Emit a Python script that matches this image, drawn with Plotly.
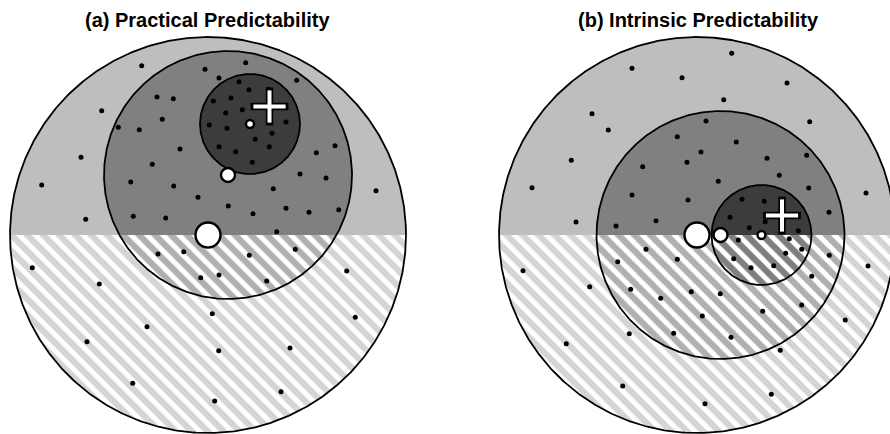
import numpy as np
import plotly.graph_objects as go

# ---------------- data ----------------
TITLES = ["(a) Practical Predictability", "(b) Intrinsic Predictability"]
TITLE_X = [207, 698]
TITLE_Y = [20, 20]

SPLIT_Y = 235  # horizontal divide between solid (upper) and hatched (lower)

# nested circles: outer, middle, inner
A_CX = [208, 228, 250]
A_CY = [235, 175, 124]
A_R = [198, 124, 50]

B_CX = [697, 720.5, 761.5]
B_CY = [235, 235, 235]
B_R = [198, 124, 50]

SOLID_COLORS = ["#bebebe", "#808080", "#3c3c3c"]
STRIPE_COLORS = ["#a9a9a9", "#606060", "#000000"]
CENTER_MARK_SIZES = [25, 14, 8]

A_PLUS = (269.5, 106.5)
B_PLUS = (782, 215.5)

A_DOTS_X = [141.7, 101.7, 81, 41.7, 85.7, 376,
            245.7, 205, 219, 296.7, 157, 173.3, 162.3, 118.3, 139.3, 180, 152.3, 130.7, 173.7,
            198, 228.3, 133.3, 165.7, 253, 286, 309, 338.7, 276.7, 273.3, 300, 326, 316.3, 335,
            239, 268.7, 249, 231, 213.3, 242.3, 225.7, 209.3, 227, 286, 272, 255.3, 219, 235.7,
            269.3, 252.3,
            158, 183.7, 249.3, 295.3, 200.7, 219, 266.7,
            32.3, 99.3, 212.3, 346.7, 355.3, 147, 87, 218.7, 290, 132.7, 281, 214.7]
A_DOTS_Y = [65.7, 110.7, 157.3, 185, 219.3, 190.7,
            62.7, 69.3, 78, 80.3, 97, 98.7, 119.3, 127.3, 129.7, 149, 164.3, 182, 186,
            197.3, 206, 216.3, 218, 213.7, 208.3, 212.3, 209.7, 231.7, 188.7, 174, 178, 152.7, 145.7,
            81.7, 89.3, 89.7, 98, 101, 109.7, 113, 125, 128.3, 122, 133.3, 139.3, 146.7, 151.7,
            146.7, 162.3,
            254, 251.7, 255.3, 249.3, 277.7, 275, 281,
            267.7, 284, 313.7, 271, 317.3, 326.7, 341.7, 350.7, 348, 383.3, 391.7, 401]

B_DOTS_X = [731.7, 632, 682, 787, 723.7, 592, 608.3, 809.7, 571.3, 532, 576, 866,
            706, 677.3, 736.3, 701, 767, 806.7, 687, 642.7, 779.3, 718.3, 808.7, 632, 688, 656, 616, 829,
            742, 764.3, 730, 765.3, 749.3, 798.3,
            738.3, 789.3, 801.7, 785.7, 733.7, 773.7, 751,
            646, 677.3, 617.7, 829.3, 811.7, 630.7, 691.3, 720.3, 660.7, 801.7, 762.7, 702.3, 673.7,
            731, 629.3,
            868, 523, 589.7, 845.3, 566.3, 780.3, 622.7, 771.3, 705]
B_DOTS_Y = [53.3, 68.3, 77.7, 83, 99.7, 113.7, 130, 121.7, 160.3, 187.7, 222, 193,
            121, 136.7, 142, 152, 158.3, 155.3, 162.3, 166.7, 175.3, 181.3, 188, 195, 200, 220.7, 226, 212.3,
            199.3, 201.3, 217.3, 221.7, 227.7, 230.7,
            240, 238.7, 249.3, 253.3, 258.7, 265.7, 267.7,
            249.3, 259.3, 261.7, 255.3, 276.3, 289.3, 291.7, 293.7, 298.3, 305, 311.3, 316, 333.3,
            337.3, 333.7,
            266, 270.7, 286.7, 320, 343.7, 350.3, 386, 394.3, 403.7]


# ---------------- helpers ----------------
def circle_pts(cx, cy, r, n=720):
    t = np.linspace(0, 2 * np.pi, n, endpoint=False)
    return list(zip(cx + r * np.cos(t), cy + r * np.sin(t)))


def clip_half(pts, line_y, upper):
    def inside(p):
        return p[1] <= line_y if upper else p[1] >= line_y

    out = []
    n = len(pts)
    for i in range(n):
        P, Q = pts[i - 1], pts[i]
        inP, inQ = inside(P), inside(Q)
        if inQ:
            if not inP:
                t = (line_y - P[1]) / (Q[1] - P[1])
                out.append((P[0] + t * (Q[0] - P[0]), line_y))
            out.append(Q)
        elif inP:
            t = (line_y - P[1]) / (Q[1] - P[1])
            out.append((P[0] + t * (Q[0] - P[0]), line_y))
    return out


fig = go.Figure()


def add_panel(cxs, cys, rs, dots_x, dots_y, plus):
    # fills
    for cx, cy, r, sc, stc in zip(cxs, cys, rs, SOLID_COLORS, STRIPE_COLORS):
        pts = circle_pts(cx, cy, r)
        up = clip_half(pts, SPLIT_Y, True)
        lo = clip_half(pts, SPLIT_Y, False)
        if up:
            xs, ys = zip(*up)
            fig.add_trace(go.Scatter(x=list(xs) + [xs[0]], y=list(ys) + [ys[0]], mode="none",
                                     fill="toself", fillcolor=sc, hoverinfo="skip", showlegend=False))
        if lo:
            xs, ys = zip(*lo)
            fig.add_trace(go.Scatter(x=list(xs) + [xs[0]], y=list(ys) + [ys[0]], mode="none",
                                     fill="toself", fillcolor="white",
                                     fillpattern=dict(shape="\\", size=11.3, solidity=0.55,
                                                      fgcolor=stc, bgcolor="white"),
                                     hoverinfo="skip", showlegend=False))
    # outlines
    for cx, cy, r in zip(cxs, cys, rs):
        pts = circle_pts(cx, cy, r)
        xs, ys = zip(*pts)
        fig.add_trace(go.Scatter(x=list(xs) + [xs[0]], y=list(ys) + [ys[0]], mode="lines",
                                 line=dict(color="black", width=1.8), hoverinfo="skip", showlegend=False))
    # dots
    fig.add_trace(go.Scatter(x=dots_x, y=dots_y, mode="markers",
                             marker=dict(color="black", size=5, opacity=1, line=dict(width=0)),
                             hoverinfo="skip", showlegend=False))
    # centre markers
    fig.add_trace(go.Scatter(x=cxs, y=cys, mode="markers",
                             marker=dict(color="white", size=CENTER_MARK_SIZES, opacity=1,
                                         line=dict(color="black", width=2.4)),
                             hoverinfo="skip", showlegend=False))
    # plus sign (observation)
    px, py = plus
    fig.add_trace(go.Scatter(x=[px, px], y=[py, py], mode="markers",
                             marker=dict(symbol=["line-ew", "line-ns"], size=27, opacity=1,
                                         line=dict(color="black", width=7.5)),
                             hoverinfo="skip", showlegend=False))
    fig.add_trace(go.Scatter(x=[px, px], y=[py, py], mode="markers",
                             marker=dict(symbol=["line-ew", "line-ns"], size=23, opacity=1,
                                         line=dict(color="white", width=4)),
                             hoverinfo="skip", showlegend=False))


add_panel(A_CX, A_CY, A_R, A_DOTS_X, A_DOTS_Y, A_PLUS)
add_panel(B_CX, B_CY, B_R, B_DOTS_X, B_DOTS_Y, B_PLUS)

for t, x, y in zip(TITLES, TITLE_X, TITLE_Y):
    fig.add_annotation(x=x, y=y, xref="x", yref="y", text=t, showarrow=False,
                       font=dict(family="Liberation Sans, Arial, sans-serif", size=20,
                                 color="black", weight="bold"))

fig.update_layout(
    width=890, height=434,
    margin=dict(l=0, r=0, t=0, b=0),
    paper_bgcolor="white", plot_bgcolor="white",
    xaxis=dict(range=[0, 890], visible=False, fixedrange=True),
    yaxis=dict(range=[434, 0], visible=False, fixedrange=True),
    showlegend=False,
)

fig.write_html("out.html", config={"displayModeBar": False},
               post_script="document.body.style.margin='0';document.body.style.overflow='hidden';")
